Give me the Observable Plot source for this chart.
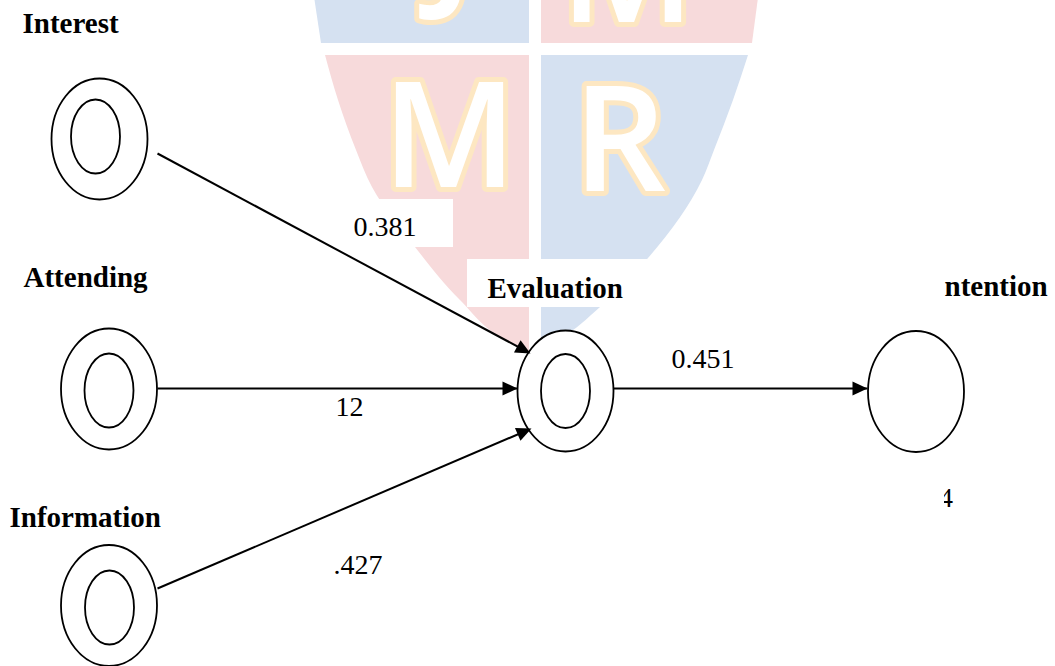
<!DOCTYPE html>
<html>
<head>
<meta charset="utf-8">
<script src="https://cdn.jsdelivr.net/npm/d3@7"></script>
<script src="https://cdn.jsdelivr.net/npm/@observablehq/plot@0.6"></script>
<style>
  html, body { margin: 0; padding: 0; background: #ffffff; }
  #chart svg { display: block; background: #ffffff; }
</style>
</head>
<body>
<div id="chart"></div>
<script>
// ---------- Diagram data (pixel-space positions of the path diagram) ----------
const nodeNames   = ["Interest", "Attending", "Information", "Evaluation", "Intention"];
const nodeLabels  = ["Interest", "Attending", "Information", "Evaluation", "ntention"];
const nodeCx      = [99, 108.5, 108.5, 565, 915.5];
const nodeCy      = [138.5, 388.5, 605, 390.5, 391];
const hasInner    = [true, true, true, true, false];
const innerCx     = [95, 108.5, 109, 565, null];
const innerCy     = [136, 390, 607, 390.5, null];
const labelX      = [22, 23, 9, 487, 944];
const labelBase   = [32, 286, 526, 297, 295];

// paths (from -> to)
const edgeFrom    = ["Interest", "Attending", "Information", "Evaluation"];
const edgeTo      = ["Evaluation", "Evaluation", "Evaluation", "Intention"];
const edgeX1      = [157, 157, 157, 613];
const edgeY1      = [153, 388, 588, 388];
const edgeX2      = [530, 517, 531, 867];
const edgeY2      = [353, 388, 428, 388];
const coefLabels  = ["0.381", "12", ".427", "0.451"];
const coefX       = [353, 335, 333, 671];
const coefBase    = [235, 415, 573, 367];

// extra text (R² value under Intention, partly hidden)
const extraText   = ["4"];
const extraX      = [938.5];
const extraBase   = [506];

// ---------- Watermark (shield) ----------
const shieldBottomY      = [55, 100, 150, 187, 247, 300, 340, 352];
const shieldBottomLeft   = [325, 338, 356, 372, 415, 460, 505, 529];
const shieldBottomRightY = [55, 100, 150, 180, 258, 307, 340, 348];
const shieldBottomRight  = [748, 733, 714, 702, 648, 600, 557, 541];
const shieldTopY         = [-10, 43];
const shieldTopLeft      = [313, 321];
const shieldTopRight     = [759, 752];
const gapLeft = 529, gapRight = 541;
const shieldPink = "#f7dadb";
const shieldBlue = "#d5e1f1";

const letters      = ["J", "M", "M", "R"];
const letterX      = [452, 627, 449, 619];
const letterBase   = [-10, 21, 186, 190];

// white boxes behind labels
const boxX1 = [340, 467];
const boxX2 = [453, 650];
const boxY1 = [199, 259];
const boxY2 = [247, 307];

// masks
const maskX1 = [925];
const maskX2 = [944];
const maskY1 = [480];
const maskY2 = [512];

// ---------- Build tables ----------
const nodes = nodeNames.map((n, i) => ({name: n, label: nodeLabels[i], cx: nodeCx[i], cy: nodeCy[i], lx: labelX[i], ly: labelBase[i]}));
const inner = nodeNames.map((n, i) => ({name: n, cx: innerCx[i], cy: innerCy[i], on: hasInner[i]})).filter(d => d.on);
const edges = edgeFrom.map((f, i) => ({
  from: f, to: edgeTo[i], x1: edgeX1[i], y1: edgeY1[i], x2: edgeX2[i], y2: edgeY2[i],
  angle: Math.atan2(edgeY2[i] - edgeY1[i], edgeX2[i] - edgeX1[i]) * 180 / Math.PI,
  label: coefLabels[i], lx: coefX[i], ly: coefBase[i]
}));
const extras = extraText.map((t, i) => ({t, x: extraX[i], y: extraBase[i]}));
const pinkBottom = shieldBottomY.map((y, i) => ({y, x1: shieldBottomLeft[i], x2: gapLeft}));
const blueBottom = shieldBottomRightY.map((y, i) => ({y, x1: gapRight, x2: shieldBottomRight[i]}));
const blueTop = shieldTopY.map((y, i) => ({y, x1: shieldTopLeft[i], x2: gapLeft}));
const pinkTop = shieldTopY.map((y, i) => ({y, x1: gapRight, x2: shieldTopRight[i]}));
const letterData = letters.map((l, i) => ({l, x: letterX[i], y: letterBase[i]}));
const boxes = boxX1.map((x, i) => ({x1: x, x2: boxX2[i], y1: boxY1[i], y2: boxY2[i]}));
const masks = maskX1.map((x, i) => ({x1: x, x2: maskX2[i], y1: maskY1[i], y2: maskY2[i]}));

// ---------- Symbols ----------
function ellipseSymbol(rx, ry) {
  const k = 0.5523;
  return {
    draw(ctx) {
      ctx.moveTo(rx, 0);
      ctx.bezierCurveTo(rx, ry * k, rx * k, ry, 0, ry);
      ctx.bezierCurveTo(-rx * k, ry, -rx, ry * k, -rx, 0);
      ctx.bezierCurveTo(-rx, -ry * k, -rx * k, -ry, 0, -ry);
      ctx.bezierCurveTo(rx * k, -ry, rx, -ry * k, rx, 0);
      ctx.closePath();
    }
  };
}
const arrowHead = {
  draw(ctx) {
    ctx.moveTo(0, 0);
    ctx.lineTo(-15, -7);
    ctx.lineTo(-15, 7);
    ctx.closePath();
  }
};

const W = 1055, H = 666;
const serif = "'Liberation Serif', 'Times New Roman', serif";

const chart = Plot.plot({
  width: W,
  height: H,
  margin: 0,
  x: {domain: [0, W], range: [0, W], axis: null},
  y: {domain: [0, H], range: [0, H], axis: null},
  style: {background: "#ffffff", overflow: "hidden"},
  marks: [
    // watermark shield
    Plot.areaX(blueTop, {y: "y", x1: "x1", x2: "x2", fill: shieldBlue, curve: "linear"}),
    Plot.areaX(pinkTop, {y: "y", x1: "x1", x2: "x2", fill: shieldPink, curve: "linear"}),
    Plot.areaX(pinkBottom, {y: "y", x1: "x1", x2: "x2", fill: shieldPink, curve: "monotone-y"}),
    Plot.areaX(blueBottom, {y: "y", x1: "x1", x2: "x2", fill: shieldBlue, curve: "monotone-y"}),
    Plot.text(letterData, {
      x: "x", y: "y", text: "l", fontSize: 146, fontWeight: 600,
      fontFamily: "'Open Sans', sans-serif", fill: "#ffffff", stroke: "#fde7c2", strokeWidth: 10,
      strokeLinejoin: "round", textAnchor: "middle", lineAnchor: "bottom"
    }),
    // white label boxes
    Plot.rect(boxes, {x1: "x1", x2: "x2", y1: "y1", y2: "y2", fill: "#ffffff"}),
    // paths
    Plot.link(edges, {x1: "x1", y1: "y1", x2: "x2", y2: "y2", stroke: "#000000", strokeWidth: 2}),
    // outer ellipses
    Plot.dot(nodes, {x: "cx", y: "cy", symbol: ellipseSymbol(48, 60.5), fill: "#ffffff", stroke: "#000000", strokeWidth: 1.8}),
    // inner ellipses
    Plot.dot(inner, {x: "cx", y: "cy", symbol: ellipseSymbol(24.5, 37), fill: "#ffffff", stroke: "#000000", strokeWidth: 1.8}),
    // arrowheads
    Plot.dot(edges, {x: "x2", y: "y2", symbol: arrowHead, rotate: "angle", fill: "#000000", stroke: "none"}),
    // node labels
    Plot.text(nodes, {
      x: "lx", y: "ly", text: "label", fontSize: 29, fontWeight: "bold",
      fontFamily: serif, fill: "#000000", textAnchor: "start", lineAnchor: "bottom"
    }),
    // coefficients
    Plot.text(edges, {
      x: "lx", y: "ly", text: "label", fontSize: 28,
      fontFamily: serif, fill: "#000000", textAnchor: "start", lineAnchor: "bottom"
    }),
    Plot.text(extras, {
      x: "x", y: "y", text: "t", fontSize: 28,
      fontFamily: serif, fill: "#000000", textAnchor: "start", lineAnchor: "bottom"
    }),
    Plot.rect(masks, {x1: "x1", x2: "x2", y1: "y1", y2: "y2", fill: "#ffffff"})
  ]
});
document.getElementById("chart").appendChild(chart);
</script>
</body>
</html>
